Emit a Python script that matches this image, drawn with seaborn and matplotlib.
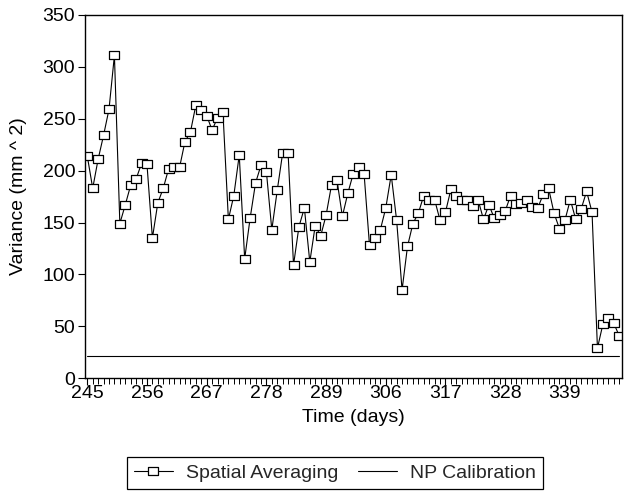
import numpy as np
import pandas as pd
import matplotlib
matplotlib.use("Agg")
import matplotlib.pyplot as plt
from matplotlib.path import Path
import seaborn as sns

# Daily variance estimates (mm^2), one per observation
variance = [214, 183, 211, 234, 259, 311, 149, 167, 186, 192,
            207, 206, 135, 169, 183, 202, 203, 203, 228, 237,
            263, 258, 253, 239, 251, 256, 153, 176, 215, 115,
            154, 188, 205, 199, 143, 181, 217, 217, 109, 146,
            164, 112, 147, 137, 157, 186, 191, 156, 178, 197,
            203, 197, 128, 135, 143, 164, 196, 152, 85, 127,
            149, 159, 176, 172, 172, 152, 160, 182, 176, 172,
            172, 166, 172, 153, 167, 154, 157, 161, 176, 168,
            169, 172, 165, 164, 177, 183, 159, 144, 152, 172,
            153, 163, 180, 160, 29, 52, 58, 53, 41]

# Constant variance from the NP calibration
np_calibration = 21.5

# Day-of-year labels shown every 11th observation
day_labels = ["245", "256", "267", "278", "289", "306", "317", "328", "339"]
label_step = 11

n_obs = len(variance)
df = pd.DataFrame({
    "obs": np.arange(n_obs),
    "variance": variance,
    "np_cal": [np_calibration] * n_obs,
})

sns.set_theme(style="white")
plt.rcParams["font.family"] = ["Liberation Sans", "DejaVu Sans"]
plt.rcParams["font.size"] = 14

fig = plt.figure(figsize=(6.25, 4.97), dpi=100)
ax = fig.add_axes([0.136, 0.239, 0.859, 0.731])

# Slightly wide rectangular marker
rect = Path([(-1.25, -1), (1.25, -1), (1.25, 1), (-1.25, 1), (-1.25, -1)],
            [Path.MOVETO, Path.LINETO, Path.LINETO, Path.LINETO, Path.CLOSEPOLY])

sns.lineplot(data=df, x="obs", y="variance", ax=ax, color="black",
             linewidth=0.8, marker=rect, markersize=7,
             markerfacecolor="white", markeredgecolor="black",
             markeredgewidth=0.9, label="Spatial Averaging")
sns.lineplot(data=df, x="obs", y="np_cal", ax=ax, color="black",
             linewidth=0.8, label="NP Calibration")

ax.set_xlim(-0.42, 98.5)
ax.set_ylim(0, 350)
ax.set_yticks(np.arange(0, 351, 50))
ax.set_xticks(np.arange(0, label_step * len(day_labels), label_step))
ax.set_xticklabels(day_labels)
ax.set_xticks(np.arange(n_obs), minor=True)

ax.tick_params(axis="both", which="both", direction="out", color="black",
               labelsize=14, labelcolor="black")
ax.tick_params(axis="x", which="both", bottom=True, top=False)
ax.tick_params(axis="y", which="both", left=True, right=False)
ax.tick_params(axis="x", which="major", length=5, width=0.8, pad=0)
ax.tick_params(axis="x", which="minor", length=4, width=0.7)
ax.tick_params(axis="y", which="major", length=5, width=0.8, pad=2)

for side in ["left", "right", "top", "bottom"]:
    ax.spines[side].set_visible(True)
    ax.spines[side].set_color("black")
    ax.spines[side].set_linewidth(1.0)

ax.set_xlabel("Time (days)", fontsize=14, color="black", labelpad=5)
ax.set_ylabel("Variance (mm ^ 2)", fontsize=14, color="black", labelpad=11)

handles, labels = ax.get_legend_handles_labels()
ax.get_legend().remove()
leg = fig.legend(handles, labels, loc="center", ncol=2,
                 bbox_to_anchor=(335 / 625, 1 - 473 / 497),
                 frameon=True, fancybox=False, edgecolor="black",
                 framealpha=1, fontsize=14, handlelength=2.0,
                 columnspacing=1.0, handletextpad=0.7, borderpad=0.35,
                 borderaxespad=0.0)
leg.get_frame().set_linewidth(0.9)

fig.savefig("out.png", dpi=100)
